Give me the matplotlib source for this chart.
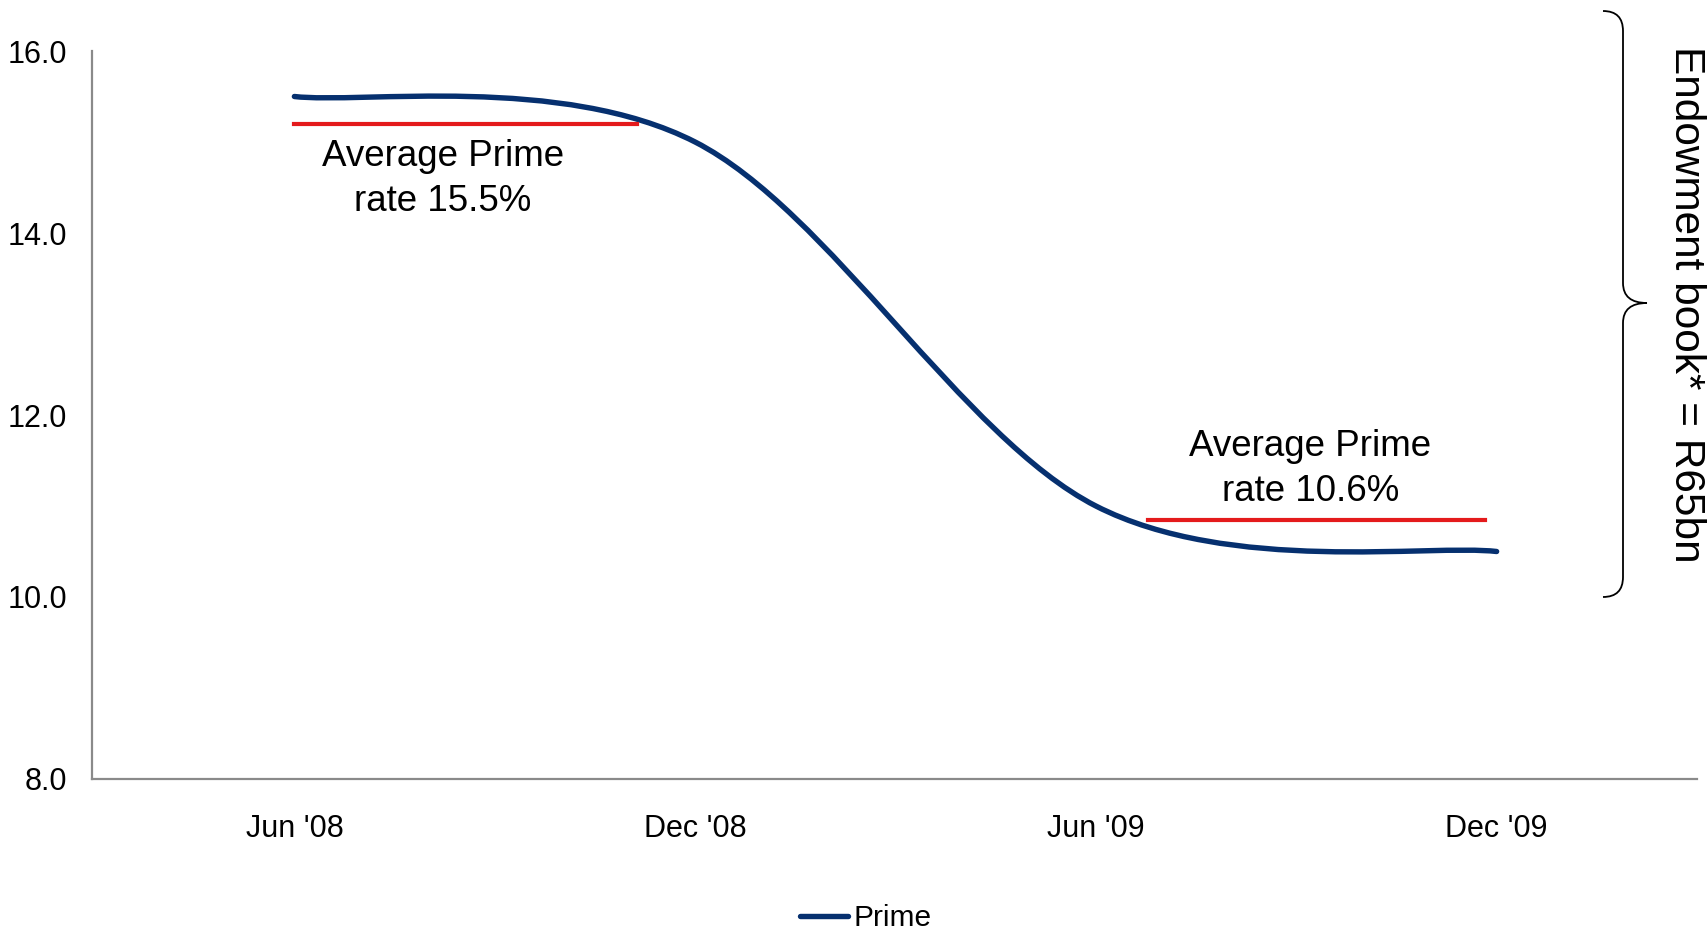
"""Prime rate, Jun '08 - Dec '09, with average-rate markers and endowment brace."""
import matplotlib

matplotlib.use("Agg")
import matplotlib.pyplot as plt
from matplotlib.lines import Line2D
from matplotlib.patches import PathPatch
from matplotlib.path import Path

plt.rcParams["font.family"] = ["Liberation Sans", "DejaVu Sans"]

periods = ["Jun '08", "Dec '08", "Jun '09", "Dec '09"]
prime = [15.5, 15.0, 11.0, 10.5]

# average-rate marker segments: (x start, x end, level) in category units
avg_labels = ["Average Prime\nrate 15.5%", "Average Prime\nrate 10.6%"]
avg_x0 = [0.0, 2.13]
avg_x1 = [0.855, 2.97]
avg_level = [15.2, 10.85]
avg_text_x = [0.37, 2.535]
avg_text_y = [14.59, 11.41]

y_ticks = [8.0, 10.0, 12.0, 14.0, 16.0]

BLUE = "#06306f"
RED = "#e41a1c"
SPINE = "#8a8a8a"
W, H = 1708, 931


def smooth_path(xs, ys):
    """Excel-style smoothed line as cubic Bezier segments."""
    pts = list(zip(xs, ys))
    n = len(pts)
    verts = [pts[0]]
    codes = [Path.MOVETO]
    for i in range(n - 1):
        p_prev = pts[max(i - 1, 0)]
        p0, p1 = pts[i], pts[i + 1]
        p_next = pts[min(i + 2, n - 1)]
        c1 = (p0[0] + (p1[0] - p_prev[0]) / 6, p0[1] + (p1[1] - p_prev[1]) / 6)
        c2 = (p1[0] - (p_next[0] - p0[0]) / 6, p1[1] - (p_next[1] - p0[1]) / 6)
        verts += [c1, c2, p1]
        codes += [Path.CURVE4] * 3
    return Path(verts, codes)


fig = plt.figure(figsize=(W / 100, H / 100), dpi=100)
ax = fig.add_axes([92 / W, 1 - 779 / H, (1697 - 92) / W, (779 - 51) / H])

xs = list(range(len(periods)))
ax.add_patch(PathPatch(smooth_path(xs, prime), facecolor="none",
                       edgecolor=BLUE, linewidth=3.9, capstyle="round"))

for x0, x1, lvl, lab, tx, ty in zip(avg_x0, avg_x1, avg_level, avg_labels,
                                   avg_text_x, avg_text_y):
    ax.plot([x0, x1], [lvl, lvl], color=RED, linewidth=3)
    ax.text(tx, ty, lab, ha="center", va="center", fontsize=26.5,
            linespacing=1.38, color="black")

ax.set_xlim(-0.505, 3.5)
ax.set_ylim(8, 16)
ax.set_xticks(xs, labels=periods)
ax.set_yticks(y_ticks, labels=[f"{v:.1f}" for v in y_ticks])
ax.tick_params(axis="x", length=0, pad=25, labelsize=22)
ax.tick_params(axis="y", length=0, pad=18, labelsize=22)
for side in ("top", "right"):
    ax.spines[side].set_visible(False)
for side in ("left", "bottom"):
    ax.spines[side].set_color(SPINE)
    ax.spines[side].set_linewidth(1.6)

# legend below the axis
handle = Line2D([], [], color=BLUE, linewidth=3.9, solid_capstyle="round")
fig.legend([handle], ["Prime"], loc="center",
           bbox_to_anchor=(866 / W, 1 - 918 / H), frameon=False,
           fontsize=21.5, handlelength=1.6, handletextpad=0.2)

# curly brace on the right, in pixel coordinates
def fx(px):
    return px / W


def fy(py):
    return 1 - py / H


xl, xm, xt = 1603, 1623, 1647
top, tip, bot = 11, 303, 597
r = 20
brace = [
    (xl, top), (xm, top), (xm, top + r),
    (xm, tip - r), (xm, tip), (xt, tip),
    (xm, tip), (xm, tip + r),
    (xm, bot - r), (xm, bot), (xl, bot),
]
bcodes = [
    Path.MOVETO, Path.CURVE3, Path.CURVE3,
    Path.LINETO, Path.CURVE3, Path.CURVE3,
    Path.CURVE3, Path.CURVE3,
    Path.LINETO, Path.CURVE3, Path.CURVE3,
]
fig.patches.append(PathPatch(Path([(fx(a), fy(b)) for a, b in brace], bcodes),
                             transform=fig.transFigure, facecolor="none",
                             edgecolor="black", linewidth=1.3))
fig.text(fx(1686), fy(304), "Endowment book* = R65bn", rotation=-90,
         ha="center", va="center", fontsize=30.5)

fig.savefig("out.png", dpi=100)
